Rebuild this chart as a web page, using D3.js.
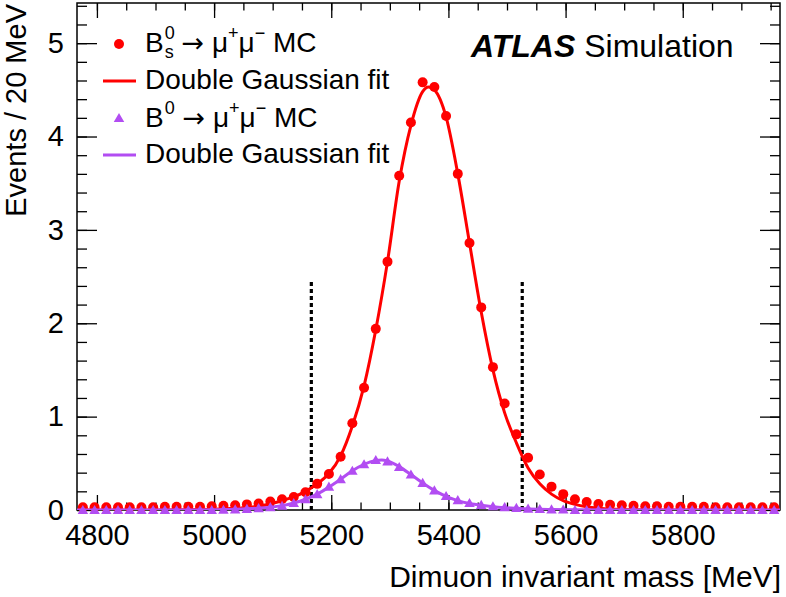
<!DOCTYPE html>
<html>
<head>
<meta charset="utf-8">
<script src="https://cdn.jsdelivr.net/npm/d3@7"></script>
<style>
  html, body { margin: 0; padding: 0; background: #fff; }
  svg { display: block; font-family: "Liberation Sans", Arial, Helvetica, sans-serif; }
</style>
</head>
<body>
<svg id="chart" width="786" height="597"></svg>
<script>
// ---------------- data ----------------
const binCenters = [4776,4796,4816,4836,4856,4876,4896,4916,4936,4956,4976,4996,
  5016,5036,5056,5076,5096,5116,5136,5156,5176,5196,5216,5236,5256,5276,5296,5316,
  5336,5356,5376,5396,5416,5436,5456,5476,5496,5516,5536,5556,5576,5596,5616,5636,
  5656,5676,5696,5716,5736,5756,5776,5796,5816,5836,5856,5876,5896,5916,5936,5956];

const bsValues = [0.03,0.03,0.03,0.03,0.03,0.03,0.03,0.035,0.035,0.035,0.035,0.04,
  0.045,0.05,0.06,0.07,0.09,0.115,0.14,0.19,0.28,0.385,0.57,0.93,1.31,1.94,2.66,3.58,
  4.15,4.58,4.53,4.22,3.60,2.86,2.17,1.53,1.14,0.81,0.56,0.38,0.25,0.17,0.115,0.085,
  0.065,0.055,0.05,0.045,0.04,0.04,0.035,0.035,0.035,0.035,0.03,0.03,0.03,0.03,0.03,0.03];

const bdValues = [0,0,0,0,0,0,0,0,0,0,0,0,
  0.003,0.006,0.012,0.02,0.03,0.045,0.075,0.115,0.17,0.25,0.33,0.42,0.49,0.535,0.52,0.46,
  0.38,0.29,0.21,0.15,0.105,0.075,0.055,0.04,0.03,0.022,0.015,0.01,0.007,0.005,0,0,
  0,0,0,0,0,0,0,0,0,0,0,0,0,0,0,0];

const bsFitMass = [4766,4900,5000,5036,5056,5076,5096,5116,5136,5156,5176,5196,5216,5236,
  5256,5276,5296,5316,5336,5356,5366,5376,5396,5416,5436,5456,5476,5496,5516,5536,5556,
  5576,5596,5616,5636,5656,5676,5716,5800,5966];
const bsFitValues = [0,0.001,0.008,0.018,0.028,0.042,0.065,0.1,0.14,0.2,0.28,0.39,0.58,0.9,
  1.33,1.93,2.66,3.52,4.12,4.48,4.53,4.5,4.21,3.6,2.86,2.12,1.5,1.04,0.72,0.45,0.28,
  0.17,0.1,0.06,0.035,0.02,0.01,0.003,0,0];

const bdFitMass = [4766,4950,5000,5036,5056,5076,5096,5116,5136,5156,5176,5196,5216,5236,
  5256,5276,5286,5296,5316,5336,5356,5376,5396,5416,5436,5456,5476,5496,5516,5536,5556,
  5576,5616,5700,5966];
const bdFitValues = [0,0,0.003,0.008,0.013,0.02,0.03,0.047,0.075,0.115,0.17,0.245,0.33,0.42,
  0.49,0.53,0.535,0.525,0.465,0.38,0.29,0.21,0.145,0.1,0.07,0.05,0.035,0.025,0.018,0.012,0.008,
  0.005,0.002,0,0];

const signalWindow = [5166, 5526];
const windowHeight = 2.45;

const xTicks = [4800, 5000, 5200, 5400, 5600, 5800];
const yTicks = [0, 1, 2, 3, 4, 5];

const legendLabels = ["Double Gaussian fit", "Double Gaussian fit"];

// ---------------- layout ----------------
const RED = "#ff0000";
const PURPLE = "#b24df2";
const FS = 28;
const FONT = "'Liberation Sans', Arial, Helvetica, sans-serif";

const svg = d3.select("#chart");
const x = d3.scaleLinear().domain([4766, 5966]).range([77, 780]);
const y = d3.scaleLinear().domain([0, 5.43]).range([510, 3]);
const [x0, x1] = x.range();
const [y0, y1] = y.range();

svg.append("clipPath").attr("id", "clip").append("rect")
  .attr("x", x0).attr("y", y1).attr("width", x1 - x0).attr("height", y0 - y1);

function styleAxis(g, withText) {
  g.select(".domain").remove();
  g.selectAll(".tick line").attr("stroke", "#000").attr("stroke-width", 1.3);
  if (withText) g.selectAll(".tick text").attr("font-size", 29).attr("fill", "#000")
    .attr("font-family", FONT);
  else g.selectAll(".tick text").remove();
}
const xMinor = d3.range(4800, 5966, 50);
const yMinor = d3.range(0, 5.43, 0.2);

svg.append("g").attr("transform", `translate(0,${y0})`)
  .call(d3.axisBottom(x).tickValues(xMinor).tickSize(-7.5)).call(g => styleAxis(g, false));
svg.append("g").attr("transform", `translate(0,${y0})`)
  .call(d3.axisBottom(x).tickValues(xTicks).tickSize(-15).tickPadding(14).tickFormat(d3.format("d")))
  .call(g => styleAxis(g, true));
svg.append("g").attr("transform", `translate(0,${y1})`)
  .call(d3.axisTop(x).tickValues(xMinor).tickSize(-7.5)).call(g => styleAxis(g, false));
svg.append("g").attr("transform", `translate(0,${y1})`)
  .call(d3.axisTop(x).tickValues(xTicks).tickSize(-15)).call(g => styleAxis(g, false));

svg.append("g").attr("transform", `translate(${x0},0)`)
  .call(d3.axisLeft(y).tickValues(yMinor).tickSize(-10)).call(g => styleAxis(g, false));
svg.append("g").attr("transform", `translate(${x0},0)`)
  .call(d3.axisLeft(y).tickValues(yTicks).tickSize(-20).tickPadding(13).tickFormat(d3.format("d")))
  .call(g => styleAxis(g, true));
svg.append("g").attr("transform", `translate(${x1},0)`)
  .call(d3.axisRight(y).tickValues(yMinor).tickSize(-10)).call(g => styleAxis(g, false));
svg.append("g").attr("transform", `translate(${x1},0)`)
  .call(d3.axisRight(y).tickValues(yTicks).tickSize(-20)).call(g => styleAxis(g, false));

svg.append("rect").attr("x", x0).attr("y", y1).attr("width", x1 - x0).attr("height", y0 - y1)
  .attr("fill", "none").attr("stroke", "#000").attr("stroke-width", 1.5);

// axis titles
svg.append("text").attr("x", 781).attr("y", 587).attr("text-anchor", "end")
  .attr("font-size", 30).text("Dimuon invariant mass [MeV]");
svg.append("text").attr("transform", "translate(26,4) rotate(-90)").attr("text-anchor", "end")
  .attr("font-size", 29).text("Events / 20 MeV");

// signal window lines
svg.append("g").selectAll("line").data(signalWindow).join("line")
  .attr("x1", d => x(d)).attr("x2", d => x(d))
  .attr("y1", y(0)).attr("y2", y(windowHeight))
  .attr("stroke", "#000").attr("stroke-width", 3.2).attr("stroke-dasharray", "4,3");

const bsData = binCenters.map((m, i) => ({ m, v: bsValues[i] }));
const bdData = binCenters.map((m, i) => ({ m, v: bdValues[i] }));

svg.append("g").selectAll("circle").data(bsData).join("circle")
  .attr("cx", d => x(d.m)).attr("cy", d => y(d.v)).attr("r", 5).attr("fill", RED);

const line = d3.line().x(d => x(d[0])).y(d => y(d[1])).curve(d3.curveMonotoneX);
svg.append("path").datum(bsFitMass.map((m, i) => [m, bsFitValues[i]]))
  .attr("d", line).attr("fill", "none").attr("stroke", RED).attr("stroke-width", 3)
  .attr("clip-path", "url(#clip)");

const tri = d3.symbol().type(d3.symbolTriangle).size(48);
svg.append("g").selectAll("path").data(bdData).join("path")
  .attr("d", tri).attr("transform", d => `translate(${x(d.m)},${y(d.v) + 1})`).attr("fill", PURPLE);

svg.append("path").datum(bdFitMass.map((m, i) => [m, bdFitValues[i]]))
  .attr("d", line).attr("fill", "none").attr("stroke", PURPLE).attr("stroke-width", 3)
  .attr("clip-path", "url(#clip)");

// legend
const lg = svg.append("g");
const tx = 145;
lg.append("circle").attr("cx", 119).attr("cy", 44).attr("r", 5).attr("fill", RED);
lg.append("line").attr("x1", 103).attr("x2", 136).attr("y1", 81).attr("y2", 81)
  .attr("stroke", RED).attr("stroke-width", 3);
lg.append("path").attr("d", tri).attr("transform", "translate(119,119)").attr("fill", PURPLE);
lg.append("line").attr("x1", 103).attr("x2", 136).attr("y1", 155).attr("y2", 155)
  .attr("stroke", PURPLE).attr("stroke-width", 3);

function decayLabel(yb, withSub) {
  const t = lg.append("text").attr("x", tx).attr("y", yb).attr("font-size", FS);
  t.append("tspan").text("B");
  t.append("tspan").attr("font-size", 18).attr("dy", -13).attr("dx", 1).text("0");
  if (withSub) {
    t.append("tspan").attr("font-size", 18).attr("dx", -10).attr("dy", 19).text("s");
    t.append("tspan").attr("dy", -6).text(" ");
  } else {
    t.append("tspan").attr("dy", 13).text(" ");
  }
  t.append("tspan").attr("font-family", "'DejaVu Sans', sans-serif").attr("font-size", 27).text("\u2192");
  t.append("tspan").text(" \u03bc");
  t.append("tspan").attr("font-size", 18).attr("dy", -13).text("+");
  t.append("tspan").attr("dy", 13).text("\u03bc");
  t.append("tspan").attr("font-size", 18).attr("dy", -13).text("\u2212");
  t.append("tspan").attr("dy", 13).text(" MC");
}
decayLabel(52, true);
lg.append("text").attr("x", tx).attr("y", 89).attr("font-size", FS).text(legendLabels[0]);
decayLabel(127, false);
lg.append("text").attr("x", tx).attr("y", 163).attr("font-size", FS).text(legendLabels[1]);

// ATLAS label
const at = svg.append("text").attr("x", 471).attr("y", 57).attr("font-size", 32);
at.append("tspan").attr("font-weight", "bold").attr("font-style", "italic").text("ATLAS");
at.append("tspan").text(" Simulation");
</script>
</body>
</html>
